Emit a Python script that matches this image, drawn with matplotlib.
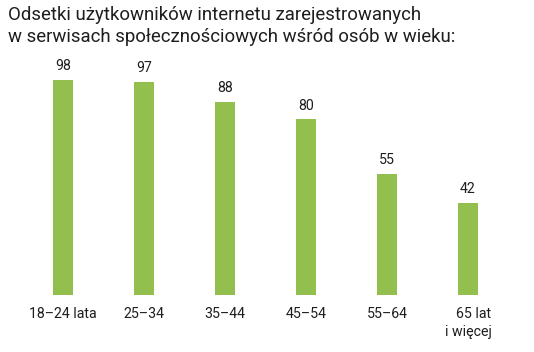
import matplotlib
matplotlib.use("Agg")
import matplotlib.pyplot as plt

plt.rcParams["font.family"] = ["Roboto", "DejaVu Sans"]

# Data
categories = ["18–24 lata", "25–34", "35–44", "45–54", "55–64", "65 lat\ni więcej"]
values = [98, 97, 88, 80, 55, 42]

bar_color = "#93bf4f"
text_color = "#1e1e1e"

fig = plt.figure(figsize=(5.34, 3.52), dpi=100)
ax = fig.add_axes([0, 1 - 295 / 352, 1, 295 / 352])

x = list(range(len(categories)))
ax.bar(x, values, width=0.247, color=bar_color)

# value labels above bars
for xi, v in zip(x, values):
    ax.annotate(str(v), (xi, v), xytext=(0, 5), textcoords="offset points",
                ha="center", va="bottom", fontsize=10.2, color=text_color)

ax.set_xlim(-63 / 81, (534 - 63) / 81)
ax.set_ylim(0, 295 / 2.194)
ax.set_xticks(x)
ax.set_xticklabels(categories, fontsize=10.2, color=text_color,
                   multialignment="right", linespacing=1.35)
ax.tick_params(axis="x", length=0, pad=9)
ax.set_yticks([])
for s in ax.spines.values():
    s.set_visible(False)

fig.text(8 / 534, 1 - 6 / 352,
         "Odsetki użytkowników internetu zarejestrowanych\nw serwisach społecznościowych wśród osób w wieku:",
         ha="left", va="top", fontsize=13.4, color=text_color, linespacing=1.25)

fig.savefig("out.png", dpi=100)
